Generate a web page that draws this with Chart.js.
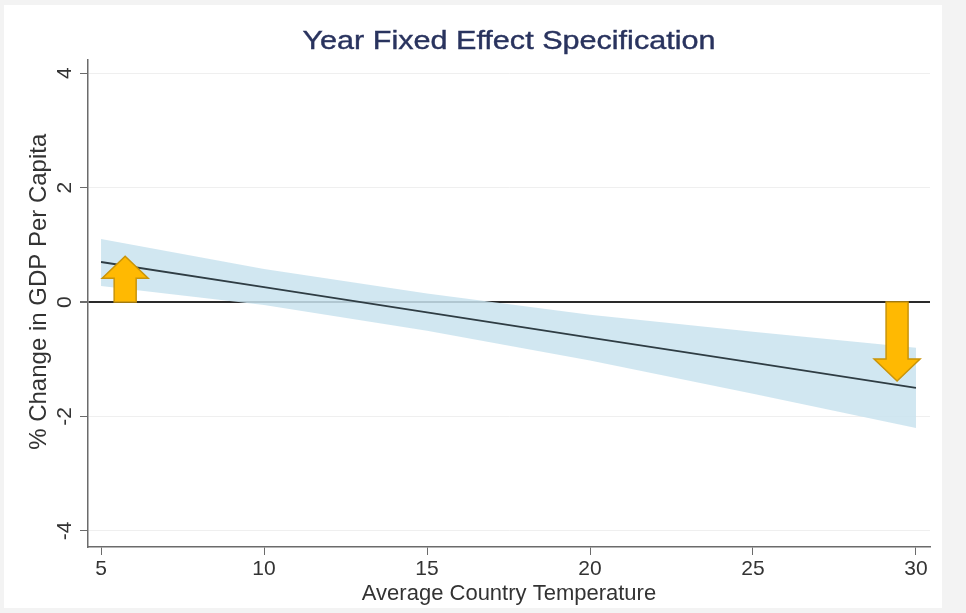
<!DOCTYPE html>
<html>
<head>
<meta charset="utf-8">
<title>Year Fixed Effect Specification</title>
<script src="https://cdn.jsdelivr.net/npm/chart.js@4.4.1/dist/chart.umd.min.js"></script>
<style>
  html, body { margin: 0; padding: 0; background: #f3f3f3; }
  #wrap { position: relative; width: 966px; height: 613px; }
  #panel { position: absolute; left: 4px; top: 5px; width: 938px; height: 603px; background: #fff; }
  #grafico { position: absolute; left: 0; top: 0; }
</style>
</head>
<body>
<div id="wrap">
  <div id="panel"></div>
  <canvas id="grafico" width="966" height="613"></canvas>
</div>
<script>
// temperatura media y efecto estimado con su intervalo de confianza
const temperaturas = [5, 10, 15, 20, 25, 30]
const efecto = [0.70, 0.26, -0.18, -0.62, -1.06, -1.50]
const limiteSup = [1.10, 0.58, 0.15, -0.22, -0.52, -0.80]
const limiteInf = [0.28, -0.05, -0.50, -1.02, -1.60, -2.20]

// ticks de los ejes
const ticksX = [5, 10, 15, 20, 25, 30]
const ticksY = [-4, -2, 0, 2, 4]

// flechas: posicion en x, desde y hasta
const flechaX = [5.74, 29.42]
const flechaDesde = [0, 0]
const flechaHasta = [0.80, -1.38]

const titulo = 'Year Fixed Effect Specification'
const tituloY = '% Change in GDP Per Capita'
const fuente = "'Liberation Sans', Arial, Helvetica, sans-serif"

const puntos = (ys) => temperaturas.map((t, i) => ({ x: t, y: ys[i] }))

// titulo centrado sobre el area del grafico, algo ensanchado
const tituloPlugin = {
    id: 'tituloPlugin',
    afterDraw(chart) {
        const { ctx, chartArea } = chart
        ctx.save()
        ctx.font = `26px ${fuente}`
        ctx.fillStyle = '#29335e'
        ctx.strokeStyle = '#29335e'
        ctx.lineWidth = 0.4
        ctx.textAlign = 'center'
        ctx.textBaseline = 'alphabetic'
        const ancho = ctx.measureText(titulo).width
        const escala = 413 / ancho
        ctx.translate((chartArea.left + chartArea.right) / 2, 49)
        ctx.scale(escala, 1)
        ctx.fillText(titulo, 0, 0)
        ctx.strokeText(titulo, 0, 0)
        ctx.restore()
    }
}

// etiquetas y titulo del eje y, girados como en Stata
const etiquetasY = {
    id: 'etiquetasY',
    afterDraw(chart) {
        const { ctx, scales: { y } } = chart
        ctx.save()
        ctx.fillStyle = '#333'
        ctx.textAlign = 'center'
        ctx.textBaseline = 'middle'
        ctx.font = `21px ${fuente}`
        ticksY.forEach(v => {
            ctx.save()
            ctx.translate(65, y.getPixelForValue(v))
            ctx.rotate(-Math.PI / 2)
            ctx.fillText(String(v), 0, 0)
            ctx.restore()
        })
        ctx.font = `24px ${fuente}`
        ctx.translate(39, y.getPixelForValue(0.18))
        ctx.rotate(-Math.PI / 2)
        ctx.fillText(tituloY, 0, 0)
        ctx.restore()
    }
}

// flechas naranjas
const flechas = {
    id: 'flechas',
    afterDatasetsDraw(chart) {
        const { ctx, scales: { x, y } } = chart
        const mitadCuerpo = 11
        const mitadPunta = 23
        const largoPunta = 22
        ctx.save()
        flechaX.forEach((fx, i) => {
            const px = x.getPixelForValue(fx)
            const y0 = y.getPixelForValue(flechaDesde[i])
            const y1 = y.getPixelForValue(flechaHasta[i])
            const dir = y1 < y0 ? -1 : 1
            const base = y1 - dir * largoPunta
            ctx.beginPath()
            ctx.moveTo(px - mitadCuerpo, y0)
            ctx.lineTo(px - mitadCuerpo, base)
            ctx.lineTo(px - mitadPunta, base)
            ctx.lineTo(px, y1)
            ctx.lineTo(px + mitadPunta, base)
            ctx.lineTo(px + mitadCuerpo, base)
            ctx.lineTo(px + mitadCuerpo, y0)
            ctx.closePath()
            ctx.fillStyle = '#FFB902'
            ctx.fill()
            ctx.lineWidth = 1.5
            ctx.strokeStyle = '#C99409'
            ctx.stroke()
        })
        ctx.restore()
    }
}

const config = {
    type: 'scatter',
    data: {
        datasets: [
            {
                label: 'sup',
                data: puntos(limiteSup),
                showLine: true,
                borderWidth: 0,
                pointRadius: 0,
                backgroundColor: 'rgba(201, 227, 238, 0.85)',
                fill: '+1',
                order: 2
            },
            {
                label: 'inf',
                data: puntos(limiteInf),
                showLine: true,
                borderWidth: 0,
                pointRadius: 0,
                fill: false,
                order: 2
            },
            {
                label: 'efecto',
                data: puntos(efecto),
                showLine: true,
                borderColor: '#2f3d44',
                borderWidth: 1.8,
                pointRadius: 0,
                fill: false,
                order: 1
            }
        ]
    },
    options: {
        responsive: false,
        animation: false,
        layout: { padding: { left: 0, top: 60, right: 36, bottom: 0 } },
        plugins: {
            legend: { display: false },
            tooltip: { enabled: false },
            title: { display: false }
        },
        scales: {
            x: {
                type: 'linear',
                min: 4.6,
                max: 30.43,
                afterBuildTicks: s => { s.ticks = ticksX.map(v => ({ value: v })) },
                afterFit: s => { s.height = 66 },
                border: { color: '#6b6b6b', width: 1.5 },
                grid: { drawOnChartArea: false, drawTicks: true, tickLength: 8, tickColor: '#6b6b6b' },
                ticks: {
                    color: '#333',
                    padding: 2,
                    maxRotation: 0,
                    font: { family: fuente, size: 21 }
                },
                title: {
                    display: true,
                    text: 'Average Country Temperature',
                    color: '#333',
                    font: { family: fuente, size: 22 },
                    padding: { top: 6, bottom: 6 }
                }
            },
            y: {
                type: 'linear',
                min: -4.28,
                max: 4.23,
                afterBuildTicks: s => { s.ticks = ticksY.map(v => ({ value: v })) },
                afterFit: s => { s.width = 88 },
                border: { color: '#6b6b6b', width: 1.5 },
                grid: {
                    drawTicks: true,
                    tickLength: 8,
                    tickColor: '#6b6b6b',
                    color: ctx => ctx.tick && ctx.tick.value === 0 ? '#2a2a2a' : '#efefef',
                    lineWidth: ctx => ctx.tick && ctx.tick.value === 0 ? 2 : 1
                },
                ticks: { display: false },
                title: { display: false }
            }
        }
    },
    plugins: [tituloPlugin, etiquetasY, flechas]
}

const grafico = new Chart(document.getElementById('grafico'), config)
</script>
</body>
</html>
